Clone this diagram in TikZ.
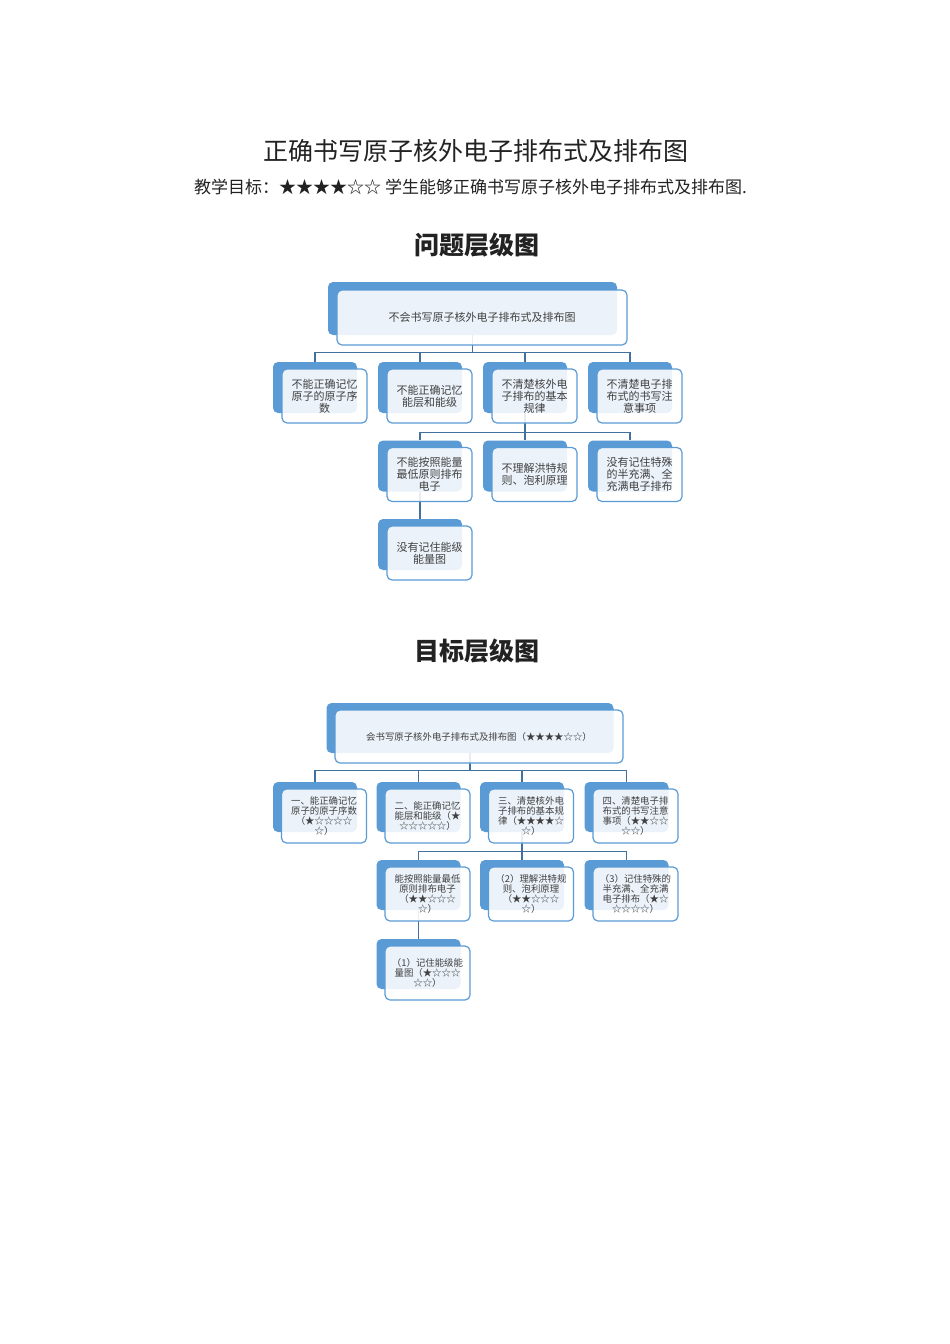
\documentclass[tikz,border=0pt]{standalone}
\usepackage{fontspec}
\newfontfamily\cjk{Noto Sans CJK SC}
\usetikzlibrary{calc}
\definecolor{bluefill}{HTML}{5B9BD5}
\definecolor{blueline}{HTML}{5B9BD5}
\definecolor{linkcol}{HTML}{41719C}
\definecolor{txt}{HTML}{404040}
\definecolor{ttl}{HTML}{222222}
\tikzset{
  backbox/.style={draw=none, fill=bluefill, rounded corners=5pt, minimum width=84pt, minimum height=51pt, inner sep=0pt},
  frontbox/.style={draw=blueline, line width=1.2pt, fill=white, fill opacity=0.88, text opacity=1, rounded corners=5pt, minimum width=85pt, minimum height=54pt, inner sep=0pt, align=center, text=txt},
  toptext/.style={font=\cjk\fontsize{11}{12}\selectfont},
  bottext/.style={font=\cjk\fontsize{9.4}{10}\selectfont},
  link/.style={draw=linkcol, line width=1.3pt},
  titletext/.style={text=ttl, inner sep=0pt},
}
\begin{document}
\begin{tikzpicture}[x=1pt,y=-1pt]
\useasboundingbox (0,0) rectangle (950,1344);
\fill[white] (0,0) rectangle (950,1344);

% titles
\node[titletext, font=\cjk\fontsize{25}{28}\selectfont] (title) at (475.5,151) {正确书写原子核外电子排布式及排布图};
\node[titletext, font=\cjk\fontsize{17}{20}\selectfont] (goal) at (470.5,187) {教学目标：★★★★☆☆ 学生能够正确书写原子核外电子排布式及排布图.};
\node[titletext, font=\cjk\bfseries\fontsize{25}{28}\selectfont] (h1) at (476.5,245) {问题层级图};
\node[titletext, font=\cjk\bfseries\fontsize{25}{28}\selectfont] (h2) at (476.5,651) {目标层级图};

% ===== top chart: back boxes =====
\node[backbox, minimum width=289pt, minimum height=53pt] (Pb) at (472.5,308.5) {};
\node[backbox] (A1b) at (315,387.5) {};
\node[backbox] (A2b) at (420,387.5) {};
\node[backbox] (A3b) at (525,387.5) {};
\node[backbox] (A4b) at (630,387.5) {};
\node[backbox] (B1b) at (420,466) {};
\node[backbox] (B2b) at (525,466) {};
\node[backbox] (B3b) at (630,466) {};
\node[backbox] (C1b) at (420,544.5) {};

% connectors
\foreach \c in {A1b,A2b,A3b,A4b} \draw[link] (Pb.south) -- ++(0,17) -| (\c.north);
\foreach \c in {B1b,B2b,B3b} \draw[link] (A3b.south) -- ++(0,19) -| (\c.north);
\draw[link] (B1b.south) -- (C1b.north);

% front boxes
\node[frontbox, toptext, minimum width=290pt, minimum height=55pt] (P) at ($(Pb)+(9.5,9)$) {不会书写原子核外电子排布式及排布图};
\node[frontbox, toptext] (A1) at ($(A1b)+(9.5,8.5)$) {不能正确记忆\\原子的原子序\\数};
\node[frontbox, toptext] (A2) at ($(A2b)+(9.5,8.5)$) {不能正确记忆\\能层和能级};
\node[frontbox, toptext] (A3) at ($(A3b)+(9.5,8.5)$) {不清楚核外电\\子排布的基本\\规律};
\node[frontbox, toptext] (A4) at ($(A4b)+(9.5,8.5)$) {不清楚电子排\\布式的书写注\\意事项};
\node[frontbox, toptext] (B1) at ($(B1b)+(9.5,8.5)$) {不能按照能量\\最低原则排布\\电子};
\node[frontbox, toptext] (B2) at ($(B2b)+(9.5,8.5)$) {不理解洪特规\\则、泡利原理};
\node[frontbox, toptext] (B3) at ($(B3b)+(9.5,8.5)$) {没有记住特殊\\的半充满、全\\充满电子排布};
\node[frontbox, toptext] (C1) at ($(C1b)+(9.5,8.5)$) {没有记住能级\\能量图};

% ===== bottom chart: back boxes =====
\node[backbox, minimum width=287pt, minimum height=50pt] (Qb) at (470,728) {};
\node[backbox, minimum height=50pt] (D1b) at (315,807) {};
\node[backbox, minimum height=50pt] (D2b) at (418.5,807) {};
\node[backbox, minimum height=50pt] (D3b) at (522,807) {};
\node[backbox, minimum height=50pt] (D4b) at (626.5,807) {};
\node[backbox, minimum height=50pt] (E1b) at (418.5,885) {};
\node[backbox, minimum height=50pt] (E2b) at (522,885) {};
\node[backbox, minimum height=50pt] (E3b) at (626.5,885) {};
\node[backbox, minimum height=50pt] (F1b) at (418.5,964) {};

% connectors
\foreach \c in {D1b,D2b,D3b,D4b} \draw[link] (Qb.south) -- ++(0,17) -| (\c.north);
\foreach \c in {E1b,E2b,E3b} \draw[link] (D3b.south) -- ++(0,19) -| (\c.north);
\draw[link] (E1b.south) -- (F1b.north);

% front boxes
\node[frontbox, bottext, minimum width=288pt, minimum height=53pt] (Q) at ($(Qb)+(9,8.5)$) {会书写原子核外电子排布式及排布图（★★★★☆☆）};
\node[frontbox, bottext] (D1) at ($(D1b)+(9,9)$) {一、能正确记忆\\原子的原子序数\\（★☆☆☆☆\\☆）};
\node[frontbox, bottext] (D2) at ($(D2b)+(9,9)$) {二、能正确记忆\\能层和能级（★\\☆☆☆☆☆）};
\node[frontbox, bottext] (D3) at ($(D3b)+(9,9)$) {三、清楚核外电\\子排布的基本规\\律（★★★★☆\\☆）};
\node[frontbox, bottext] (D4) at ($(D4b)+(9,9)$) {四、清楚电子排\\布式的书写注意\\事项（★★☆☆\\☆☆）};
\node[frontbox, bottext] (E1) at ($(E1b)+(9,9)$) {能按照能量最低\\原则排布电子\\（★★☆☆☆\\☆）};
\node[frontbox, bottext] (E2) at ($(E2b)+(9,9)$) {（2）理解洪特规\\则、泡利原理\\（★★☆☆☆\\☆）};
\node[frontbox, bottext] (E3) at ($(E3b)+(9,9)$) {（3）记住特殊的\\半充满、全充满\\电子排布（★☆\\☆☆☆☆）};
\node[frontbox, bottext] (F1) at ($(F1b)+(9,9)$) {（1）记住能级能\\量图（★☆☆☆\\☆☆）};
\end{tikzpicture}
\end{document}
